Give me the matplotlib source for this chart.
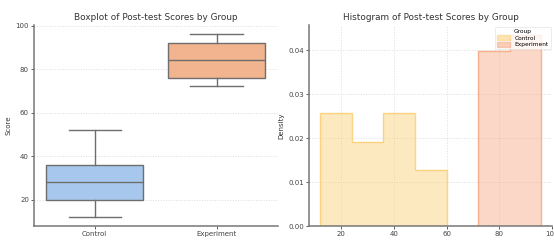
import matplotlib.pyplot as plt
import numpy as np

# boxplot summary (whisker low, q1, median, q3, whisker high)
groups = ["Control", "Experiment"]
box_low = [12, 72]
box_q1 = [20, 76]
box_med = [28, 84]
box_q3 = [36, 92]
box_high = [52, 96]
box_colors = ["#a7c8ec", "#f2b48e"]

# histogram densities
ctrl_edges = [12, 24, 36, 48, 60]
ctrl_dens = [0.0256, 0.0192, 0.0256, 0.0128]
exp_edges = [72, 84, 96]
exp_dens = [0.0398, 0.0435]
hist_colors = ["#fccf73", "#f5a882"]

fig = plt.figure(figsize=(5.54, 2.40), dpi=100)
ax1 = fig.add_axes([0.061, 0.058, 0.44, 0.8375])
ax2 = fig.add_axes([0.558, 0.058, 0.439, 0.8375])

gray = "#6e6e6e"
for ax in (ax1, ax2):
    for s in ("top", "right"):
        ax.spines[s].set_visible(False)
    for s in ("left", "bottom"):
        ax.spines[s].set_color("#777777")
        ax.spines[s].set_linewidth(1.1)
    ax.tick_params(labelsize=5, colors="#444444", length=2, width=0.6, pad=1.5)
    ax.set_axisbelow(True)

# boxplot
stats = []
for i, g in enumerate(groups):
    stats.append(dict(label=g, whislo=box_low[i], q1=box_q1[i], med=box_med[i],
                      q3=box_q3[i], whishi=box_high[i], fliers=[]))
bp = ax1.bxp(stats, positions=[0, 1], widths=0.8, patch_artist=True,
             boxprops=dict(edgecolor=gray, linewidth=1.0),
             medianprops=dict(color=gray, linewidth=1.0),
             whiskerprops=dict(color=gray, linewidth=1.0),
             capprops=dict(color=gray, linewidth=1.0), capwidths=0.43)
for patch, c in zip(bp["boxes"], box_colors):
    patch.set_facecolor(c)
ax1.set_xlim(-0.5, 1.5)
ax1.set_ylim(7.8, 100.2)
ax1.set_yticks([20, 40, 60, 80, 100])
ax1.yaxis.grid(True, linestyle=":", color="#dddddd", linewidth=0.7)
ax1.set_title("Boxplot of Post-test Scores by Group", fontsize=6.4, color="#333333", pad=4)
ax1.set_ylabel("Score", fontsize=5, color="#333333", labelpad=3)
ax1.set_xlabel("Group", fontsize=5, color="#333333", labelpad=2)

# histogram
ax2.stairs(ctrl_dens, ctrl_edges, fill=True, facecolor=hist_colors[0], alpha=0.45,
           edgecolor="none", label="_nolegend_")
ax2.stairs(ctrl_dens, ctrl_edges, baseline=0, color=hist_colors[0], linewidth=1.0, alpha=0.85)
ax2.stairs(exp_dens, exp_edges, fill=True, facecolor=hist_colors[1], alpha=0.45,
           edgecolor="none", label="_nolegend_")
ax2.stairs(exp_dens, exp_edges, baseline=0, color=hist_colors[1], linewidth=1.0, alpha=0.85)
ax2.set_xlim(7.8, 100.2)
ax2.set_ylim(0, 0.0457)
ax2.set_xticks([20, 40, 60, 80, 100])
ax2.set_yticks([0, 0.01, 0.02, 0.03, 0.04])
ax2.set_yticklabels(["0.00", "0.01", "0.02", "0.03", "0.04"])
ax2.grid(True, linestyle=":", color="#dddddd", linewidth=0.7)
ax2.set_title("Histogram of Post-test Scores by Group", fontsize=6.4, color="#333333", pad=4)
ax2.set_ylabel("Density", fontsize=5, color="#333333", labelpad=3)
ax2.set_xlabel("Score", fontsize=5, color="#333333", labelpad=2)

handles = [plt.Rectangle((0, 0), 1, 1, facecolor=c, edgecolor=c, alpha=0.55, linewidth=1.0)
           for c in hist_colors]
leg = ax2.legend(handles, groups, title="Group", loc="upper right", fontsize=4.2,
                 title_fontsize=4.2, frameon=True, borderpad=0.35, labelspacing=0.25,
                 handlelength=2.2, handleheight=0.8, borderaxespad=0.3, framealpha=0.8)
leg.get_frame().set_linewidth(0.5)
leg.get_frame().set_edgecolor("#dddddd")

fig.savefig("out.png", dpi=100)
